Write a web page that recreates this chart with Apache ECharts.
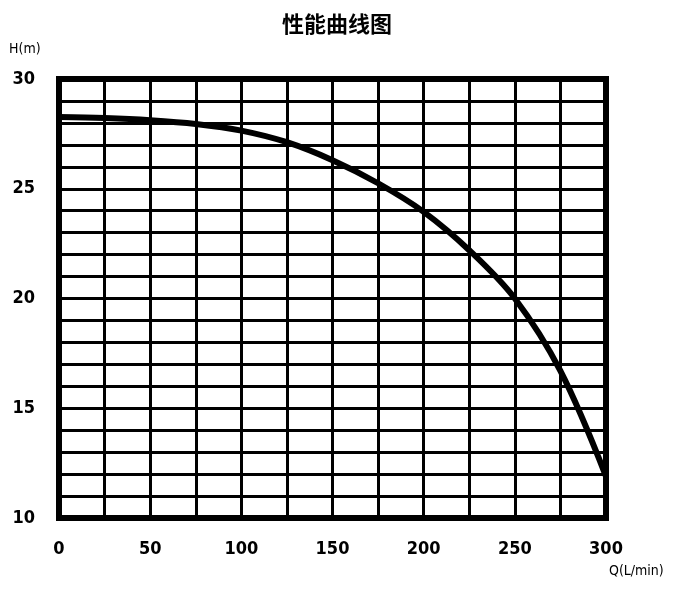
<!DOCTYPE html>
<html><head><meta charset="utf-8">
<script src="https://cdn.jsdelivr.net/npm/echarts@6/dist/echarts.min.js"></script>
<style>html,body{margin:0;padding:0;background:#fff}#c{width:674px;height:589px}</style>
</head><body><div id="c"></div>
<script>
var flow = [0, 25, 50, 75, 100, 125, 150, 175, 200, 225, 250, 275, 300];
var head = [28.27, 28.22, 28.12, 27.95, 27.65, 27.12, 26.3, 25.25, 23.95, 22.2, 20.0, 16.7, 11.9];
var xTicks = [0, 50, 100, 150, 200, 250, 300];
var yTicks = [10, 15, 20, 25, 30];

var chart = echarts.init(document.getElementById('c'), null, {renderer: 'canvas'});
var lblFont = {color: '#000', fontFamily: 'DejaVu Sans Condensed', fontWeight: 'bold', fontSize: 18};
chart.setOption({
  animation: false,
  backgroundColor: '#fff',
  title: {text: '性能曲线图', left: 'center', top: 8,
    textStyle: {fontFamily: 'Noto Sans CJK SC', fontWeight: 'bold', fontSize: 22, color: '#000'}},
  grid: {left: 59, right: 68, top: 79, bottom: 71, show: true, borderColor: '#000', borderWidth: 6, z: 5},
  xAxis: {type: 'value', min: 0, max: 300, interval: 25,
    axisLine: {show: false}, axisTick: {show: false},
    splitLine: {show: true, lineStyle: {color: '#000', width: 3}},
    axisLabel: Object.assign({margin: 22, formatter: function(v){ return xTicks.indexOf(v) >= 0 ? String(v) : ''; }}, lblFont)
  },
  yAxis: {type: 'value', min: 10, max: 30, interval: 1,
    axisLine: {show: false}, axisTick: {show: false},
    splitLine: {show: true, lineStyle: {color: '#000', width: 3}},
    axisLabel: Object.assign({margin: 24, formatter: function(v){ return yTicks.indexOf(v) >= 0 ? String(v) : ''; }}, lblFont)
  },
  graphic: [
    {type: 'text', left: 9, top: 42, style: {text: 'H(m)', fill: '#000', font: '14px "DejaVu Sans Condensed"'}},
    {type: 'text', left: 609, top: 564, style: {text: 'Q(L/min)', fill: '#000', font: '14px "DejaVu Sans Condensed"'}}
  ],
  series: [{
    type: 'line', smooth: 0.35, showSymbol: false, z: 10,
    lineStyle: {color: '#000', width: 6},
    data: flow.map(function(q, i){ return [q, head[i]]; })
  }]
});
</script></body></html>
